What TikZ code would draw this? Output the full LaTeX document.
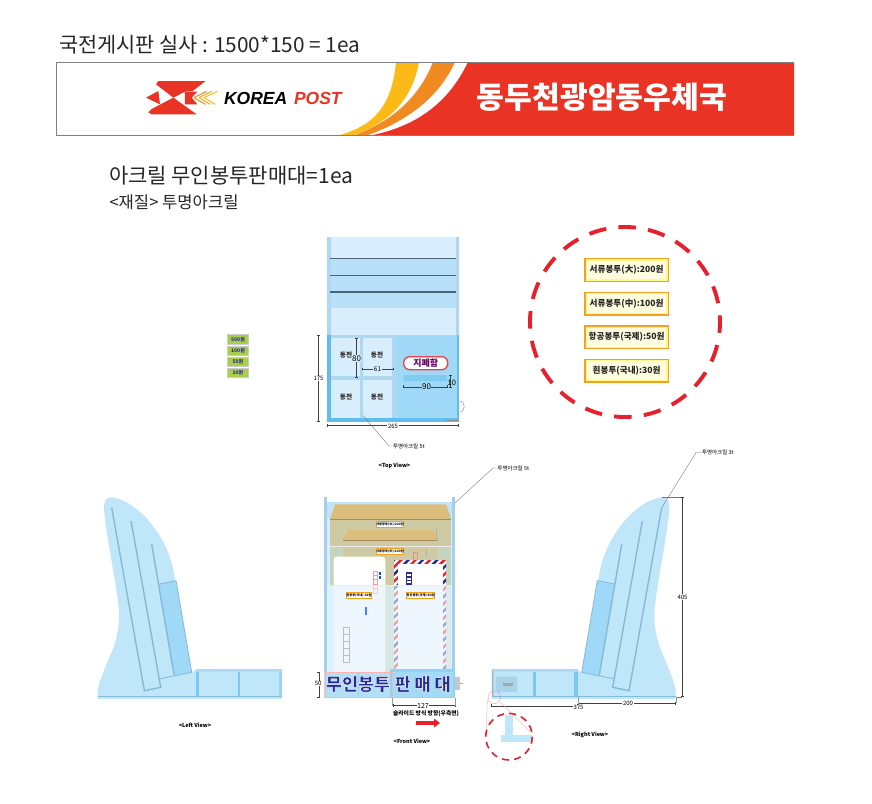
\documentclass[tikz,border=0pt]{standalone}
\usepackage{fontspec}
\setmainfont{Noto Sans CJK KR}
\newfontfamily\latinfont{Liberation Sans}
\usetikzlibrary{arrows.meta}
\newcommand\fsz[1]{\fontsize{#1}{#1}\selectfont}
\newcommand\halotext[1]{\special{pdf:code 2 Tr 1 1 1 RG 0.42 w}#1\special{pdf:code 0 Tr 0 w}}
\definecolor{postred}{HTML}{E83325}
\definecolor{postyellow}{HTML}{FBBA15}
\definecolor{postorange}{HTML}{F28A22}
\definecolor{acryl}{HTML}{C0E6F9}
\definecolor{acrylpale}{HTML}{D9EEFC}
\definecolor{acrylmid}{HTML}{B8E0F8}
\definecolor{acryldeep}{HTML}{A0D8F8}
\definecolor{acrylbar}{HTML}{60BEEC}
\definecolor{acrylline}{HTML}{84BAD6}
\definecolor{navy}{HTML}{2B2A8F}
\definecolor{kraft}{HTML}{DBBD7C}
\definecolor{kraftbody}{HTML}{CECAA3}
\definecolor{kraftlow}{HTML}{C5D5BD}
\definecolor{ringred}{HTML}{E6202C}
\definecolor{frameorange}{HTML}{F7A01C}
\definecolor{coingreen}{HTML}{A9CF4A}
\tikzset{
  x=1pt,y=-1pt,
  every node/.style={inner sep=0pt,outer sep=0pt},
  heading/.style={anchor=west,text=black!85},
  tiny/.style={font=\fsz{5.5},text=black},
  dimlabel/.style={font=\fsz{6},text=black,fill=white,inner sep=.6pt},
  dimline/.style={draw=black!75,line width=.35pt,{Bar[width=2.6pt]}-{Bar[width=2.6pt]}},
  leader/.style={draw=black!55,line width=.35pt},
  pricebox/.style={draw=frameorange,line width=1.4pt,fill=yellow!45,minimum width=83.5pt,minimum height=22.7pt,font=\fsz{8.6}\bfseries,text=black!85,
    path picture={\fill[yellow!12!white] ([xshift=2pt,yshift=-2pt]path picture bounding box.north west) rectangle ([xshift=-2pt,yshift=2pt]path picture bounding box.south east);}},
  coin/.style={draw=black!20,line width=.3pt,fill=coingreen,minimum width=21pt,minimum height=9.4pt,font=\fsz{5}\bfseries,text=navy},
  coinname/.style={font=\fsz{6.6}\bfseries,text=black!85},
  tag/.style={draw=frameorange,line width=.8pt,fill=white,minimum width=22.5pt,minimum height=6pt,font=\fsz{3.2}\bfseries,text=black},
  drawertext/.style={font=\fsz{17.5}\bfseries,text=navy},
  slotline/.style={draw=acrylline,line width=1.4pt},
  redring/.style={draw=ringred,line width=3.9pt,dash pattern=on 17.5pt off 12.35pt},
  redsmall/.style={draw=ringred,line width=1.6pt,dash pattern=on 7pt off 5.2pt},
  pinkline/.style={draw=red!35,line width=.35pt},
  pinksmall/.style={draw=red!60,line width=.4pt,dash pattern=on 1.5pt off 1pt},
}
\newcommand\finshape{%
  \fill[acryl] (675.7,699) -- (675.7,690) .. controls (674,680) and (665,660) .. (660,648)
    .. controls (655,632) and (653,620) .. (655,605) .. controls (657,585) and (668,530) .. (669.3,510)
    .. controls (670,502) and (668,497) .. (662,497.3) .. controls (650,498) and (632,510) .. (620,526.7)
    .. controls (610,540) and (602,555) .. (598.3,580) -- (581.7,673) -- (577.7,669.5) -- (491.7,669.3) -- (491.7,699) -- cycle;
  \fill[acrylmid!85!acrylline] (491.7,669.3) rectangle (577.7,672);
  \fill[acrylbar!75!acryl] (533.3,672) rectangle (535.6,696.5);
  \fill[acrylbar!75!acryl] (574.3,672) rectangle (577.7,696.5);
  \fill[acrylbar!45!acryl] (491.7,672) rectangle (494,696.5);
  \draw[acrylline,line width=.6pt] (491.7,696.7) -- (675.7,696.7);
  \fill[acryldeep] (597.3,580.7) -- (614.3,584) -- (599.3,675) -- (581.7,672.3) -- cycle;
  \draw[slotline] (621.7,544.3) -- (599.3,675);
  \draw[slotline,line width=.8pt] (597.3,580.7) -- (581.7,672.3) (597.3,580.7) -- (614.3,584);
  \draw[slotline,line width=.9pt] (581.7,672.3) -- (613.3,678.7);
  \draw[slotline] (642.3,521) -- (612.7,687.3) -- (629,690.7) -- (661.7,507.7);
}
\begin{document}
\begin{tikzpicture}
\useasboundingbox (0,0) rectangle (872,803);
\fill[white] (0,0) rectangle (872,803);
%% headings
\node[heading,font=\fsz{20.8}] (title) at (59,45) {국전게시판 실사 : 1500*150 = 1ea};
\node[heading,font=\fsz{21}] (sub) at (109,176) {아크릴 무인봉투판매대=1ea};
\node[heading,font=\fsz{16.6}] (mat) at (109.5,202) {<재질> 투명아크릴};
%% banner
\fill[postyellow] (340,135) .. controls (375,125) and (392,105) .. (396,62) -- (419,62) .. controls (412,100) and (390,122) .. (354,135) -- cycle;
\fill[postorange] (355,135) .. controls (395,120) and (420,95) .. (433,62) -- (455,62) .. controls (440,95) and (410,120) .. (368,135) -- cycle;
\fill[postred] (373,135) .. controls (420,125) and (450,100) .. (468,62) -- (794,62) -- (794,135) -- cycle;
\draw[black!50,line width=.8pt] (56,62) -- (794,62) (794,135) -- (56,135) -- (56,62);
\node[font=\fsz{30.2}\bfseries,text=white] (office) at (602,97) {동두천광암동우체국};
\begin{scope}[shift={(140,75)},x=.3333pt,y=-.3333pt]
  \fill[postred] (48,28) -- (55,18) -- (197,18) -- (158,48) -- (135,50) -- (100,68) -- cycle;
  \fill[postred] (25,112) -- (35,102) -- (100,68) -- (170,118) -- (35,118) -- cycle;
  \fill[postred] (18,68) -- (55,48) -- (60,88) -- cycle;
  \fill[postred] (135,50) -- (172,50) -- (155,68) -- (172,88) -- (135,88) -- cycle;
  \draw[postorange,line width=1pt] (162,68) -- (200,49) (162,68) -- (196,88);
  \draw[postyellow!60!postorange,line width=1pt] (177,68) -- (215,49) (177,68) -- (211,88);
  \draw[postyellow,line width=1pt] (192,68) -- (232,49) (192,68) -- (226,88);
\end{scope}
\node[anchor=west,font=\latinfont\fsz{17.5}\bfseries\itshape,text=black] (korea) at (224,98) {KOREA};
\node[anchor=west,font=\latinfont\fsz{17.5}\bfseries\itshape,text=postred] (post) at (294,98) {POST};
%% top view
\fill[acrylpale] (327.3,236.7) rectangle (458.7,335);
\fill[acrylmid] (330,258.3) rectangle (456,307.7);
\fill[acrylmid!80!acrylline] (327.3,236.7) rectangle (330.5,335);
\fill[acrylmid!80!acrylline] (455.5,236.7) rectangle (458.7,335);
\draw[black!45!acrylline,line width=.8pt] (330,258.6) -- (456,258.6) (330,275.2) -- (456,275.2);
\draw[black!45!acrylline,line width=1.2pt] (330,292) -- (456,292);
\fill[acrylmid!80!acrylline] (327.3,335) rectangle (458.7,421.7);
\fill[acrylbar] (327.3,335) rectangle (331,421.7);
\fill[acrylbar] (327.3,418) rectangle (458.7,421.7);
\fill[acrylbar] (456.5,335) rectangle (458.7,421.7);
\fill[acryldeep] (395.7,336) rectangle (456.7,417);
\fill[acrylpale] (331,337.7) rectangle (360,376);
\fill[acrylpale] (363.3,337.7) rectangle (392,376);
\fill[acrylpale] (331,380) rectangle (360,417.7);
\fill[acrylpale] (363.3,380) rectangle (392,417.7);
\draw[black!45,line width=.8pt] (447,420.7) -- (458.7,420.7);
\draw[black!35,line width=.6pt] (459,401) .. controls (466,400) and (466,413) .. (459,412);
\node[coinname] (c1) at (346,355) {동전};
\node[coinname] (c2) at (377,355) {동전};
\node[coinname] (c3) at (346,397.5) {동전};
\node[coinname] (c4) at (377,397.5) {동전};
\node[draw=ringred!80!pink,line width=1.3pt,fill=white,rounded corners=6pt,minimum width=44pt,minimum height=13pt,font=\fsz{9}\bfseries,text=violet!80!black] (bill) at (425.7,363.2) {지폐함};
\fill[acrylbar!80!white,rounded corners=.6pt] (403.5,375) rectangle (447,381);
\coordinate (d80a) at (356.5,337.5); \coordinate (d80b) at (356.5,377);
\draw[dimline] (d80a) -- (d80b);
\node[font=\fsz{8},text=black,fill=acrylpale,inner sep=.3pt] (l80) at (356.5,358.5) {80};
\coordinate (d61a) at (362,369); \coordinate (d61b) at (393.5,369);
\draw[dimline] (d61a) -- (d61b);
\node[dimlabel,fill=acrylpale,font=\fsz{6.5}] (l61) at (377.5,369) {61};
\coordinate (d90a) at (403,386.7); \coordinate (d90b) at (447,386.7);
\draw[dimline] (d90a) -- (d90b);
\node[font=\fsz{8},text=black,fill=acryldeep,inner sep=.3pt] (l90) at (426.5,386.7) {90};
\coordinate (d10a) at (450.5,375); \coordinate (d10b) at (450.5,387);
\draw[dimline] (d10a) -- (d10b);
\node[font=\fsz{7.5},text=black] (l10) at (451.8,383) {10};
\coordinate (d175a) at (318.5,335); \coordinate (d175b) at (318.5,421.7);
\draw[dimline] (d175a) -- (d175b);
\node[dimlabel] (l175) at (318.5,378.5) {175};
\coordinate (d265a) at (327.3,425.5); \coordinate (d265b) at (458.7,425.5);
\draw[dimline] (d265a) -- (d265b);
\node[dimlabel] (l265) at (393,426) {265};
\node[tiny,anchor=west] (acr1) at (393,446) {투명아크릴 5t};
\coordinate (acr1a) at (363,415.5); \coordinate (acr1b) at (389,446);
\draw[leader] (acr1a) -- (acr1b) -- (acr1.west);
\node[tiny,font=\fsz{5.5}\bfseries] (topv) at (394.5,466) {<Top View>};
%% coins
\node[coin] (m1) at (238,339.2) {500원};
\node[coin] (m2) at (238,350.4) {100원};
\node[coin] (m3) at (238,361.4) {50원};
\node[coin] (m4) at (238,372.4) {10원};
%% price circle
\draw[redring] (625,322) ++(-94:95) arc[start angle=-94,end angle=266,radius=95];
\node[pricebox] (p1) at (626.6,270) {서류봉투(大):200원};
\node[pricebox] (p2) at (626.6,303.6) {서류봉투(中):100원};
\node[pricebox] (p3) at (626.6,337.2) {항공봉투(국제):50원};
\node[pricebox] (p4) at (626.6,370.8) {흰봉투(국내):30원};
%% front view
\fill[acrylpale] (327,502.3) rectangle (452.5,697);
\fill[acrylmid!70!acrylpale] (327,502.3) rectangle (452.5,519);
\fill[kraftbody] (330,519) rectangle (451.3,546);
\fill[kraftlow] (330,546) rectangle (451.3,585.3);
\fill[kraft] (330,519.3) -- (335,504.3) -- (446,504.3) -- (451.3,519.3) -- cycle;
\draw[black!25!kraft,line width=.3pt] (330,519.3) -- (451.3,519.3);
\fill[kraftbody] (343.3,540) rectangle (438,585.3);
\fill[kraft] (343.3,540) -- (348.3,530) -- (433,530) -- (438,540) -- cycle;
\draw[black!25!kraft,line width=.3pt] (343.3,540) -- (438,540);
\fill[kraftlow] (385.3,585.3) rectangle (394,672);
\fill[kraftlow!60!acrylpale] (446,585.3) rectangle (451.3,672);
\draw[black!30,line width=.6pt] (436,528) -- (436,541);
\draw[black!30,line width=.6pt] (426,549) -- (426,557);
\draw[red!25!kraftbody,line width=.4pt] (413,552) rectangle (417,560);
\draw[black!8,line width=.3pt] (327,546) -- (452.5,546);
% white envelope
\fill[white,rounded corners=3pt] (333.7,680) -- (333.7,556.7) -- (385.3,556.7) -- (385.3,680) -- cycle;
\foreach \yy in {570.7,575,579.5,584,588.5}{\draw[red!40,line width=.35pt] (373.3,\yy) rectangle +(3.6,4.2);}
\fill[blue!70!cyan] (379.3,571.5) rectangle (381,574.5);
\fill[blue!70!cyan] (379.3,576) rectangle (381,579);
% airmail envelope
\begin{scope}
  \clip (394,560) rectangle (446,680);
  \fill[white] (394,560) rectangle (446,680);
  \foreach \k in {0,1,...,13}{
    \fill[ringred] (390+\k*14.4,555) -- ++(3.4,0) -- ++(-130,130) -- ++(-3.4,0) -- cycle;
    \fill[navy] (397.2+\k*14.4,555) -- ++(3.4,0) -- ++(-130,130) -- ++(-3.4,0) -- cycle;
  }
  \fill[white] (397.5,563.5) rectangle (442.7,690);
\end{scope}
\fill[navy] (405.7,571.7) rectangle (412.3,586);
\foreach \yy in {574,577.5,581}{\fill[white] (407.2,\yy) rectangle +(3.6,2);}
% front panel tint
\fill[acrylmid!40!white,opacity=.62] (327,585.3) rectangle (452.5,672);
\draw[black!8,line width=.3pt] (327,585.3) -- (452.5,585.3);
\fill[blue!70!cyan,opacity=.7] (365.2,606.7) rectangle (366.8,615);
\foreach \yy in {626.7,634,641,648,655.5}{\draw[black!25,line width=.35pt] (342.7,\yy) rectangle +(6,7);}
% bars
\fill[acrylmid!60!acrylline] (324.3,497.3) rectangle (327.3,697);
\fill[acrylmid!60!acrylline] (452.3,497.3) rectangle (455,697);
% drawer
\fill[acryl!85!acrylbar] (324.3,672) rectangle (392.6,698);
\fill[acrylbar!50!acryl] (390,669) rectangle (455,698);
\fill[acryl!70!acrylbar] (392,672) rectangle (453,697);
\draw[red!30,line width=.35pt] (324.8,672) rectangle (392.6,697);
\draw[acrylbar!70,line width=.5pt] (358,672) -- (358,697);
\fill[black!22] (455,677) rectangle (460,690);
\draw[black!35,line width=.5pt] (460,683.5) -- (462.5,683.5);
\node[drawertext] (w1) at (358,684) {\halotext{무인봉투}};
\node[drawertext] (w2) at (403,684) {\halotext{판}};
\node[drawertext] (w3) at (422.5,684) {\halotext{매}};
\node[drawertext] (w4) at (442.5,684) {\halotext{대}};
\node[tag] (t1) at (390,524.8) {서류봉투(大):200원};
\node[tag] (t2) at (390,551.5) {서류봉투(中):100원};
\node[tag] (t3) at (359,595.7) {흰봉투(국내):30원};
\node[tag] (t4) at (420.7,595.7) {항공봉투(국제):50원};
\coordinate (d50a) at (318.7,672); \coordinate (d50b) at (318.7,697);
\draw[dimline] (d50a) -- (d50b);
\node[dimlabel] (l50) at (318.2,683.5) {50};
\coordinate (d127a) at (392.6,705.5); \coordinate (d127b) at (455,705.5);
\draw[dimline] (d127a) -- (d127b);
\node[dimlabel,font=\fsz{7}] (l127) at (423,705.5) {127};
\draw[black!40,line width=.3pt] (392.6,698) -- (392.6,705.5) (455,698) -- (455,705.5);
\node[tiny,font=\fsz{5.8}\bfseries] (slide) at (426,714) {슬라이드 방식 방향(우측면)};
\coordinate (ara) at (416,723); \coordinate (arb) at (440,723);
\draw[ringred,line width=3.2pt,-{Triangle[length=6pt,width=8.5pt]}] (ara) -- (arb);
\node[tiny,font=\fsz{5.5}\bfseries] (frontv) at (412,741.5) {<Front View>};
\node[tiny,anchor=west] (acr2) at (497.5,468) {투명아크릴 5t};
\coordinate (acr2a) at (455,503); \coordinate (acr2b) at (493,468);
\draw[leader] (acr2a) -- (acr2b) -- (acr2.west);
%% left view
\begin{scope}[shift={(773.4,0)},xscale=-1]
  \finshape
\end{scope}
\node[tiny,font=\fsz{5.5}\bfseries] (leftv) at (195,725.3) {<Left View>};
%% right view
\finshape
\fill[black!18,opacity=.6] (491.7,669.3) rectangle (494,672);
\draw[black!30,line width=.5pt] (492.3,670) -- (492.3,697);
\fill[acrylline!40!acryl,rounded corners=1.5pt] (495.7,676.7) rectangle (517.3,692);
\fill[black!35] (502.7,683.3) rectangle (513.3,685.7);
\coordinate (d405a) at (682.3,497.3); \coordinate (d405b) at (682.3,696.7);
\draw[leader] (662,497.3) -- (d405a);
\draw[leader] (675.7,696.7) -- (d405b);
\draw[dimline] (d405a) -- (d405b);
\node[dimlabel] (l405) at (682.5,597.3) {405};
\coordinate (d375a) at (491,705.7); \coordinate (d375b) at (577.7,705.7);
\draw[dimline] (d375a) -- (d375b);
\coordinate (d200a) at (577.7,703.3); \coordinate (d200b) at (675.7,703.3);
\draw[dimline] (d200a) -- (d200b);
\draw[black!40,line width=.3pt] (577.7,697) -- (577.7,705.7) (675.7,697) -- (675.7,703.3);
\node[dimlabel] (l375) at (578.5,707.7) {375};
\node[dimlabel] (l200) at (628,703.3) {200};
\node[tiny,font=\fsz{5.5}\bfseries] (rightv) at (590,735) {<Right View>};
\node[tiny,anchor=west] (acr3) at (702,452.5) {투명아크릴 3t};
\coordinate (acr3a) at (661.7,507.7); \coordinate (acr3b) at (696,452.5);
\draw[leader] (acr3a) -- (acr3b) -- (acr3.west);
%% detail circle
\draw[pinkline] (487.5,699) -- (486,735);
\draw[pinkline] (500,701.7) -- (530,731.7);
\draw[pinksmall] (494.3,697.3) circle[radius=6.3];
\fill[acryl] (505,715) rectangle (512.7,735);
\fill[acryl] (501,735) rectangle (531.7,741.7);
\draw[redsmall] (509,736.7) circle[radius=23.3];
\end{tikzpicture}
\end{document}
